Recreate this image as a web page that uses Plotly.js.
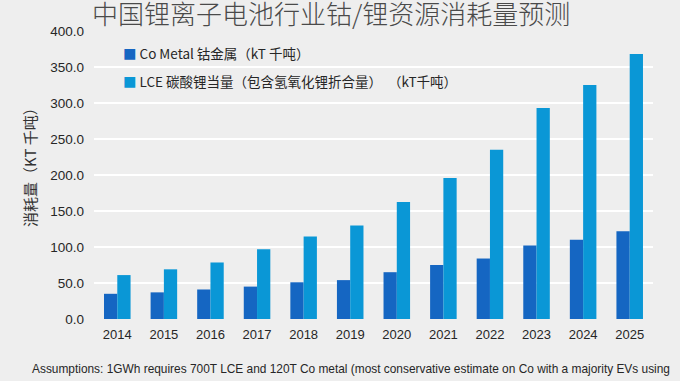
<!DOCTYPE html>
<html>
<head>
<meta charset="utf-8">
<script src="https://cdn.plot.ly/plotly-3.0.1.min.js"></script>
<style>html,body{margin:0;padding:0;background:#eeeeee;}#chart{width:680px;height:381px;}</style>
</head>
<body>
<div id="chart"></div>
<script>
const years = ['2014','2015','2016','2017','2018','2019','2020','2021','2022','2023','2024','2025'];
const coMetal = [35, 37, 41, 45, 51, 54, 65, 75, 84, 102, 110, 122];
const lce = [61, 69, 78.5, 97, 114.5, 130, 162.5, 196, 235, 293, 325, 368];
const seriesNames = ['Co Metal 钴金属（kT 千吨）', 'LCE 碳酸锂当量（包含氢氧化锂折合量）\u00a0\u00a0（kT千吨）'];
const seriesColors = ['#1566c2', '#0a97d6'];
const yTicks = [0, 50, 100, 150, 200, 250, 300, 350, 400];
const titleText = '中国锂离子电池行业钴/锂资源消耗量预测';
const yTitle = '消耗量（KT 千吨）';
const note = 'Assumptions: 1GWh requires 700T LCE and 120T Co metal (most conservative estimate on Co with a majority EVs using';

const traces = [
  {type:'bar', x: years, y: coMetal, name: seriesNames[0], marker:{color: seriesColors[0], line:{width:0}}, hoverinfo:'none'},
  {type:'bar', x: years, y: lce, name: seriesNames[1], marker:{color: seriesColors[1], line:{width:0}}, hoverinfo:'none'}
];

const cjk = '"Noto Sans CJK SC", "Liberation Sans", Arial, sans-serif';
const layout = {
  width: 680, height: 381,
  margin: {l: 94, r: 27, t: 31, b: 62},
  paper_bgcolor: '#eeeeee', plot_bgcolor: '#eeeeee',
  showlegend: false,
  barmode: 'group', bargap: 0.43, bargroupgap: 0,
  title: {text: titleText, x: 0.487, xanchor: 'center', y: 0.96, yanchor: 'middle', yref: 'container',
          font: {family: cjk, size: 26, color: '#4a4a4a', weight: 300}},
  xaxis: {type: 'category', showgrid: false, zeroline: false, showline: false, ticks: '',
          tickfont: {family: '"Liberation Sans", Arial, sans-serif', size: 13, color: '#262626'},
          ticklabelstandoff: 6},
  yaxis: {range: [0, 400], tickvals: yTicks, tickformat: '.1f', showgrid: true, gridcolor: '#ffffff', gridwidth: 1.5,
          zeroline: false, showline: false, ticks: '',
          tickfont: {family: '"Liberation Sans", Arial, sans-serif', size: 13.5, color: '#262626'},
          ticklabelstandoff: 9},
  annotations: [
    {xref:'paper', yref:'paper', x: -0.1145, y: 0.542, textangle: -90, showarrow: false,
     text: yTitle, font: {family: cjk, size: 15, color: '#333333'}, xanchor:'center', yanchor:'middle'},
    {xref:'paper', yref:'paper', x: 0.048, y: 0.9247, showarrow: false, xanchor: 'left', yanchor: 'middle',
     text: '<span style="color:' + seriesColors[0] + '">■</span> ' + seriesNames[0],
     font: {family: cjk, size: 13.5, color: '#262626'}},
    {xref:'paper', yref:'paper', x: 0.048, y: 0.826, showarrow: false, xanchor: 'left', yanchor: 'middle',
     text: '<span style="color:' + seriesColors[1] + '">■</span> ' + seriesNames[1],
     font: {family: cjk, size: 13.5, color: '#262626'}},
    {xref:'paper', yref:'paper', x: -0.114, y: -0.172, showarrow: false, xanchor: 'left', yanchor: 'middle',
     text: note, font: {family: '"Liberation Sans", Arial, sans-serif', size: 11.9, color: '#262626'}}
  ]
};

Plotly.newPlot('chart', traces, layout, {displayModeBar: false, staticPlot: true});
</script>
</body>
</html>
